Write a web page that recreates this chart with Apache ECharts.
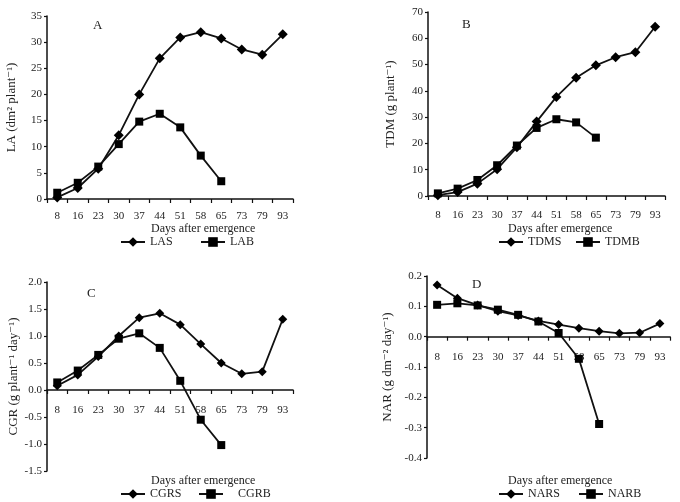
<!DOCTYPE html>
<html lang="en">
<head>
    <meta charset="UTF-8">
    <title>Growth analysis</title>
    <script src="https://cdn.jsdelivr.net/npm/echarts@6/dist/echarts.min.js"></script>
    <style>
        html, body { margin: 0; padding: 0; background: #fff; }
        #chart { width: 680px; height: 502px; }
    </style>
</head>
<body>
<div id="chart"></div>
<script>
    // days after emergence
    const days = ['8', '16', '23', '30', '37', '44', '51', '58', '65', '73', '79', '93'];

    // A - leaf area
    const las = [0.3, 2.1, 5.8, 12.2, 20.0, 26.9, 30.9, 31.9, 30.7, 28.6, 27.6, 31.5];
    const lab = [1.2, 3.1, 6.2, 10.5, 14.8, 16.3, 13.7, 8.3, 3.4];
    // B - total dry matter
    const tdms = [0.3, 1.5, 4.7, 10.2, 18.5, 28.3, 37.7, 45.0, 49.7, 52.8, 54.7, 64.4];
    const tdmb = [1.0, 2.8, 6.1, 11.7, 19.2, 25.9, 29.2, 28.0, 22.2];
    // C - crop growth rate
    const cgrs = [0.08, 0.28, 0.62, 1.0, 1.34, 1.42, 1.21, 0.85, 0.5, 0.3, 0.34, 1.31];
    const cgrb = [0.14, 0.36, 0.65, 0.95, 1.05, 0.78, 0.17, -0.55, -1.02];
    // D - net assimilation rate
    const nars = [0.17, 0.127, 0.104, 0.084, 0.07, 0.052, 0.04, 0.028, 0.018, 0.011, 0.013, 0.043];
    const narb = [0.105, 0.11, 0.103, 0.089, 0.072, 0.05, 0.012, -0.073, -0.288];

    const font = '"Liberation Serif", "DejaVu Serif", serif';

    const chart = echarts.init(document.getElementById('chart'));

    // offset pulls the category axis of C and D up onto the zero line
    function xAx(i, margin, offset) {
        return {
            type: 'category',
            gridIndex: i,
            data: days,
            boundaryGap: true,
            offset: offset,
            axisLine: { onZero: false, lineStyle: { color: '#111', width: 1.5 } },
            axisTick: { show: true, inside: false, length: 4, lineStyle: { color: '#111', width: 1.2 } },
            axisLabel: { color: '#222', fontFamily: font, fontSize: 11, margin: margin, interval: 0 },
            splitLine: { show: false }
        };
    }
    function yAx(i, min, max, step, name, gap, dec) {
        return {
            type: 'value',
            gridIndex: i,
            min: min, max: max, interval: step,
            name: name,
            nameLocation: 'middle',
            nameGap: gap,
            nameTextStyle: { color: '#222', fontFamily: font, fontSize: 13 },
            axisLine: { show: true, onZero: false, lineStyle: { color: '#111', width: 1.5 } },
            axisTick: { show: true, length: 3, lineStyle: { color: '#111', width: 1.2 } },
            axisLabel: {
                color: '#222', fontFamily: font, fontSize: 11, margin: 5,
                formatter: v => v.toFixed(dec)
            },
            splitLine: { show: false }
        };
    }
    function ser(name, data, i, symbol, size) {
        return {
            name: name,
            type: 'line',
            xAxisIndex: i,
            yAxisIndex: i,
            data: data,
            symbol: symbol,
            symbolSize: size,
            lineStyle: { color: '#111', width: 1.8 },
            itemStyle: { color: '#000' },
            animation: false
        };
    }
    function leg(name, left, top, pad) {
        return {
            data: [name],
            left: left,
            top: top,
            padding: 0,
            itemWidth: 24,
            itemHeight: 12,
            textStyle: { color: '#222', fontFamily: font, fontSize: 12, padding: [0, 0, 0, pad || 0] },
            selectedMode: false
        };
    }
    function txt(x, y, s, size) {
        return {
            type: 'text',
            left: x,
            top: y,
            style: { text: s, fill: '#222', font: size + 'px ' + font }
        };
    }

    const option = {
        animation: false,
        grid: [
            { left: 47, top: 16, width: 246, height: 183 },
            { left: 428, top: 12, width: 237, height: 184 },
            { left: 47, top: 282, width: 246, height: 189 },
            { left: 427, top: 276, width: 243, height: 182 }
        ],
        xAxis: [xAx(0, 12, 0), xAx(1, 14, 0), xAx(2, 15, -81), xAx(3, 15, -121.3)],
        yAxis: [
            yAx(0, 0, 35, 5, 'LA (dm² plant⁻¹)', 29, 0),
            yAx(1, 0, 70, 10, 'TDM (g plant⁻¹)', 31, 0),
            yAx(2, -1.5, 2.0, 0.5, 'CGR (g plant⁻¹ day⁻¹)', 27, 1),
            yAx(3, -0.4, 0.2, 0.1, 'NAR (g dm⁻² day⁻¹)', 33, 1)
        ],
        legend: [
            leg('LAS', 120, 236),
            leg('LAB', 200, 236),
            leg('TDMS', 498, 236),
            leg('TDMB', 575, 236),
            leg('CGRS', 120, 488),
            leg('CGRB', 198, 488, 10),
            leg('NARS', 498, 488),
            leg('NARB', 578, 488)
        ],
        graphic: [
            txt(93, 19, 'A', 13),
            txt(462, 18, 'B', 13),
            txt(87, 287, 'C', 13),
            txt(472, 278, 'D', 13),
            txt(151, 223, 'Days after emergence', 12),
            txt(508, 223, 'Days after emergence', 12),
            txt(151, 475, 'Days after emergence', 12),
            txt(508, 475, 'Days after emergence', 12)
        ],
        series: [
            ser('LAS', las, 0, 'diamond', 10),
            ser('LAB', lab, 0, 'rect', 8),
            ser('TDMS', tdms, 1, 'diamond', 10),
            ser('TDMB', tdmb, 1, 'rect', 8),
            ser('CGRS', cgrs, 2, 'diamond', 9),
            ser('CGRB', cgrb, 2, 'rect', 8),
            ser('NARS', nars, 3, 'diamond', 9),
            ser('NARB', narb, 3, 'rect', 8)
        ]
    };
    chart.setOption(option);
</script>
</body>
</html>
